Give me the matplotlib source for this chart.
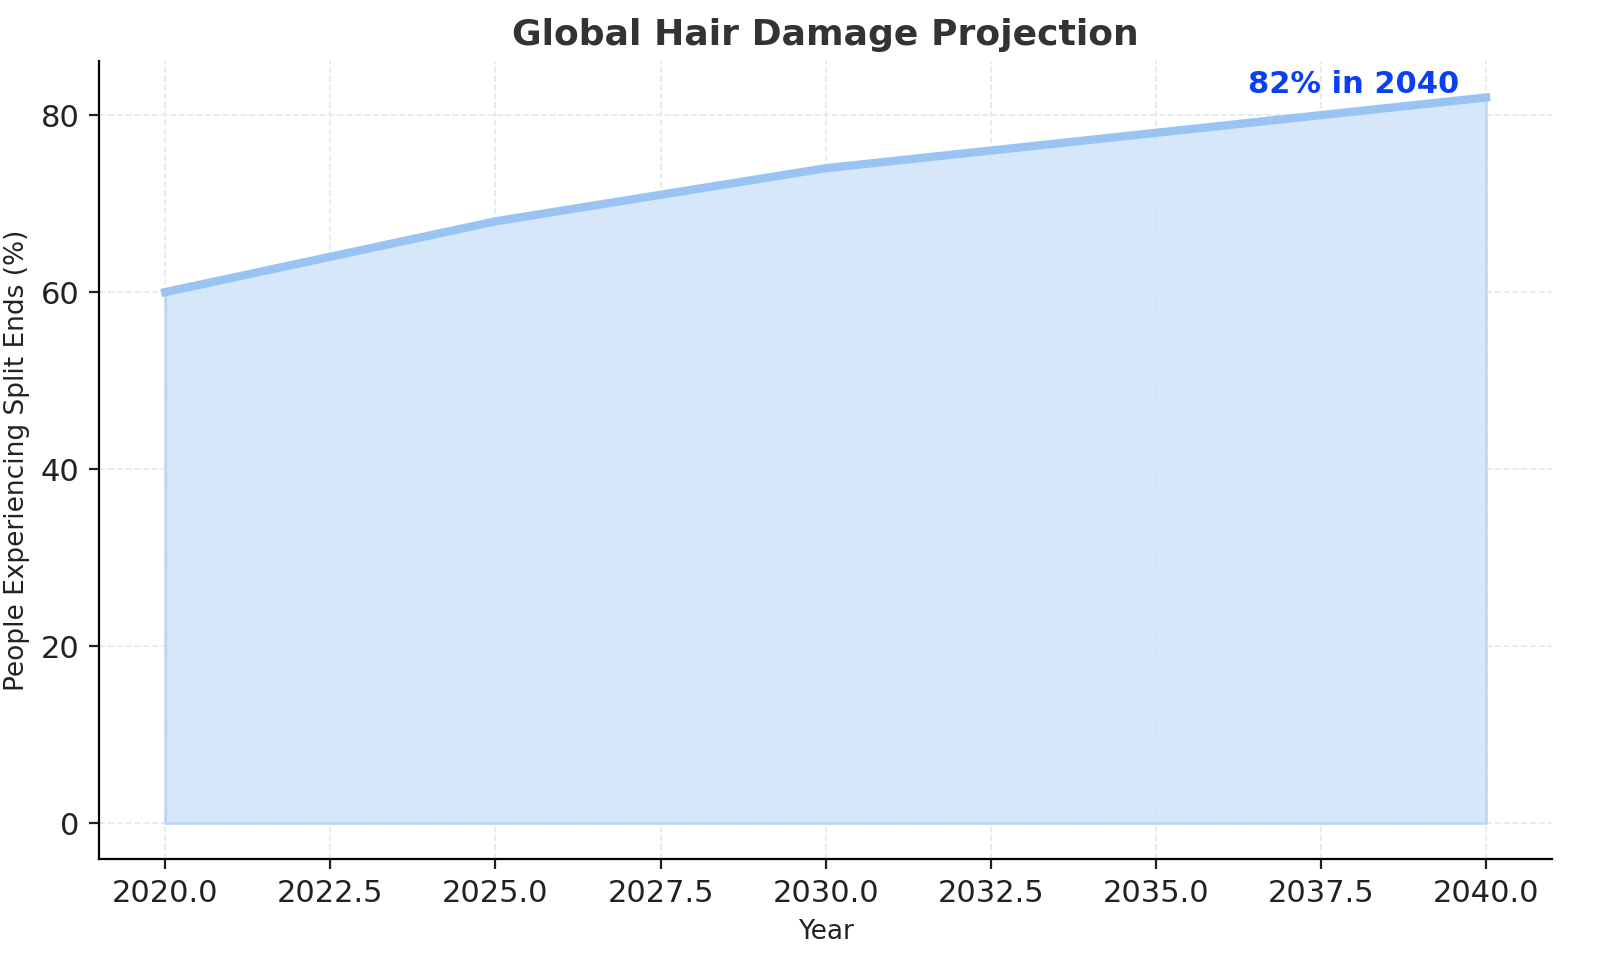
import numpy as np
import matplotlib.pyplot as plt

# datos
years = [2020, 2025, 2030, 2035, 2040]
split_ends = [60, 68, 74, 78, 82]

fig = plt.figure(figsize=(8, 4.855), dpi=200)
ax = fig.add_subplot()

ax.fill_between(years, split_ends, color='#cfe3f8', alpha=0.85, linewidth=1, edgecolor='#b8d4f2')
ax.plot(years, split_ends, color='#99c4f2', linewidth=3)

ax.set_title('Global Hair Damage Projection', fontsize=13, fontweight='bold', color='#333333')
ax.set_xlabel('Year', fontsize=9.5, color='#222222')
ax.set_ylabel('People Experiencing Split Ends (%)', fontsize=9.5, color='#222222')

ax.text(years[-1] - 0.4, split_ends[-1] - 0.2, '82% in 2040', ha='right', va='bottom',
        color='#0a3ff5', fontsize=11, fontweight='bold')

ax.set_xlim(2019.0, 2041.0)
ax.set_ylim(-4.1, 86.1)
ax.set_yticks([0, 20, 40, 60, 80])
ax.tick_params(labelsize=11, colors='#222222')

ax.grid(True, linestyle='--', linewidth=0.6, color='#e8e8e8')
ax.set_axisbelow(True)
ax.spines['top'].set_visible(False)
ax.spines['right'].set_visible(False)

fig.subplots_adjust(left=0.062, right=0.97, bottom=0.115, top=0.937)
fig.savefig('out.png', dpi=200)
